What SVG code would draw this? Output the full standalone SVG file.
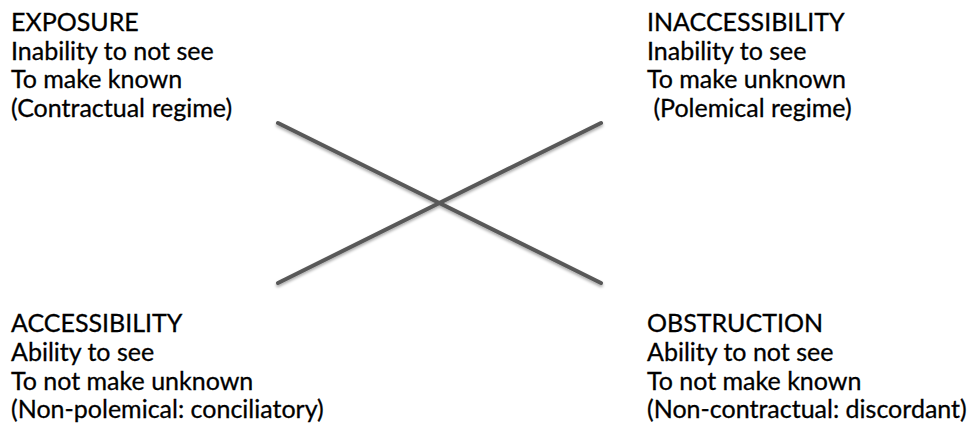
<svg xmlns="http://www.w3.org/2000/svg" width="970" height="432" viewBox="0 0 970 432">
<style>
text{font-family:"Lato","Liberation Sans",sans-serif;font-size:25px;fill:#000;stroke:#000;stroke-width:0.3}
.ln{stroke:#595959;stroke-width:4;stroke-linecap:round;fill:none}
</style>
<defs>
<filter id="sh" x="-10%" y="-10%" width="120%" height="130%">
<feGaussianBlur in="SourceAlpha" stdDeviation="1.5"/>
<feOffset dx="0" dy="2" result="b"/>
<feComponentTransfer><feFuncA type="linear" slope="0.35"/></feComponentTransfer>
<feMerge><feMergeNode/><feMergeNode in="SourceGraphic"/></feMerge>
</filter>
</defs>
<rect width="970" height="432" fill="#fff"/>
<g id="connectors" filter="url(#sh)">
<line class="ln" x1="278" y1="123" x2="601" y2="283"/>
<line class="ln" x1="278" y1="283" x2="601" y2="123"/>
</g>
<g id="exposure">
<text x="11" y="31">EXPOSURE</text>
<text x="11" y="60">Inability to not see</text>
<text x="11" y="88">To make known</text>
<text x="11" y="117">(Contractual regime)</text>
</g>
<g id="inaccessibility">
<text x="647" y="31">INACCESSIBILITY</text>
<text x="647" y="60">Inability to see</text>
<text x="647" y="88">To make unknown</text>
<text x="647" y="117" xml:space="preserve"> (Polemical regime)</text>
</g>
<g id="accessibility">
<text x="11" y="332">ACCESSIBILITY</text>
<text x="11" y="361">Ability to see</text>
<text x="11" y="390">To not make unknown</text>
<text x="11" y="418">(Non-polemical: conciliatory)</text>
</g>
<g id="obstruction">
<text x="647" y="332">OBSTRUCTION</text>
<text x="647" y="361">Ability to not see</text>
<text x="647" y="390">To not make known</text>
<text x="647" y="418">(Non-contractual: discordant)</text>
</g>
</svg>
